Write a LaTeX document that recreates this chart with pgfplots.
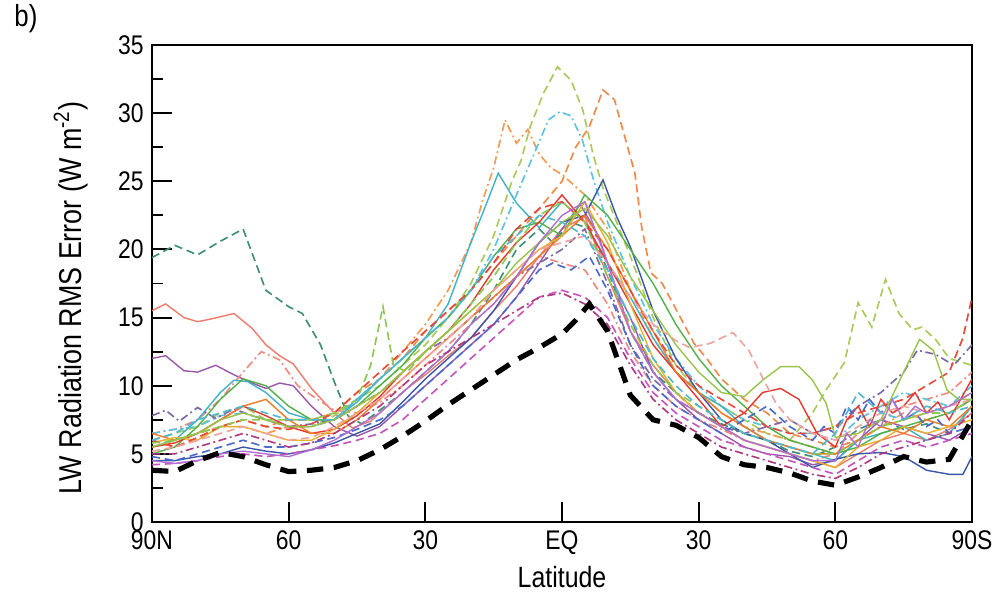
\documentclass[border=0pt]{standalone}
\usepackage{fontspec}
\setmainfont{Liberation Sans}[FakeStretch=0.85]
\usepackage{pgfplots}
\pgfplotsset{compat=1.18}
\usetikzlibrary{calc}
\definecolor{c1}{HTML}{3F8F74}
\definecolor{c2}{HTML}{F07A6C}
\definecolor{c3}{HTML}{9B57A8}
\definecolor{c4}{HTML}{EF8A82}
\definecolor{c5}{HTML}{A8CA58}
\definecolor{c6}{HTML}{F08848}
\definecolor{c7}{HTML}{F49A50}
\definecolor{c8}{HTML}{5CC2E2}
\definecolor{c9}{HTML}{40B2C6}
\definecolor{c10}{HTML}{3A56A6}
\definecolor{c11}{HTML}{52B048}
\definecolor{c12}{HTML}{E2382E}
\definecolor{c13}{HTML}{C455BC}
\definecolor{c14}{HTML}{7C6AA4}
\definecolor{c15}{HTML}{F27A26}
\definecolor{c16}{HTML}{E6B030}
\definecolor{c17}{HTML}{4A6ACC}
\definecolor{c18}{HTML}{E6483A}
\definecolor{c19}{HTML}{98C44A}
\definecolor{c20}{HTML}{F0A2A0}
\definecolor{c21}{HTML}{8CC850}
\definecolor{c22}{HTML}{B070D0}
\definecolor{c23}{HTML}{B03A80}
\definecolor{c24}{HTML}{50B8D0}
\tikzset{
  msolid/.style={line width=0.6pt},
  mdash/.style={line width=0.7pt, dash pattern=on 3.5pt off 2pt},
  mdashdot/.style={line width=0.7pt, dash pattern=on 3.5pt off 1.5pt on 0.8pt off 1.5pt},
}
\begin{document}
\begin{tikzpicture}
\begin{axis}[
  scale only axis, width=12.3cm, height=7.155cm,
  xmin=0, xmax=180, ymin=0, ymax=35,
  xtick={0,30,...,180}, xticklabels={90N,60,30,EQ,30,60,90S},
  ytick={0,5,...,35}, minor y tick num=1,
  tick align=inside, xtick pos=bottom, ytick pos=left,
  major tick length=0.3cm, minor tick length=0.16cm,
  axis line style={line width=0.9pt},
  every tick/.style={line width=0.8pt, black},
  ticklabel style={font=\fontsize{11.5}{13}\selectfont},
  /pgf/number format/assume math mode=true,
  xlabel={Latitude},
  ylabel={LW Radiation RMS Error (W m\textsuperscript{-2})},
  label style={font=\fontsize{13.5}{15}\selectfont},
  xlabel style={at={(axis description cs:0.5,-0.075)}, anchor=north, font=\fontsize{12.5}{14}\selectfont},
  ylabel style={at={(axis description cs:-0.068,0.47)}, anchor=south},
  clip=true,
]
\addplot[c1, mdash] coordinates {(0,19.4)(5,20.3)(10,19.6)(15,20.6)(20,21.5)(25,17.0)(30,15.8)(33,15.3)(37,13.0)(40,10.3)(43,7.8)(46,7.2)(50,8.2)(55,9.5)(60,11.0)(65,12.5)(70,14.5)(75,17.0)(80,20.0)(85,21.5)(88,20.5)(92,22.0)(96,21.5)(100,18.5)(105,14.0)(110,11.0)(115,9.5)(120,8.0)(125,7.2)(130,6.5)(135,6.0)(140,5.2)(145,4.8)(150,5.5)(155,6.8)(160,7.5)(165,6.8)(170,7.2)(175,6.5)(180,8.5)};
\addplot[c2, msolid] coordinates {(0,15.5)(3,16.0)(7,15.0)(10,14.7)(13,14.9)(18,15.3)(22,14.2)(25,13.0)(28,12.2)(31,11.6)(35,9.8)(40,8.0)(44,6.9)(48,7.4)(52,8.6)(56,9.8)(60,10.8)(65,12.2)(70,13.5)(75,15.5)(80,17.3)(85,19.5)(90,21.5)(95,22.4)(100,18.0)(105,14.0)(110,11.5)(115,9.5)(120,8.0)(125,7.0)(130,6.0)(135,5.5)(140,5.0)(145,4.5)(150,4.0)(155,5.0)(160,6.0)(165,6.5)(170,6.0)(175,6.8)(180,8.0)};
\addplot[c3, msolid] coordinates {(0,12.0)(3,12.2)(7,11.1)(10,11.0)(14,11.5)(18,10.8)(22,10.2)(25,9.8)(28,10.2)(31,10.0)(35,8.5)(40,7.0)(45,6.3)(50,7.0)(55,8.5)(60,10.0)(65,11.5)(70,13.0)(75,14.5)(80,16.5)(85,19.0)(90,21.5)(94,23.3)(98,21.0)(102,17.0)(105,15.0)(110,11.0)(115,9.0)(120,7.5)(125,6.5)(130,5.5)(135,5.0)(140,4.8)(145,4.2)(150,4.5)(155,6.0)(160,7.5)(165,7.0)(170,6.5)(175,6.0)(180,7.0)};
\addplot[c4, mdashdot] coordinates {(0,6.5)(5,6.8)(10,7.5)(15,9.0)(20,11.0)(24,12.5)(28,11.9)(32,10.0)(35,9.3)(40,8.2)(45,8.0)(50,8.8)(55,10.0)(60,11.5)(65,13.0)(70,14.5)(75,16.0)(80,18.0)(85,19.5)(90,19.0)(95,18.5)(100,16.0)(105,12.5)(110,10.0)(115,8.5)(120,7.5)(125,6.8)(130,6.0)(135,5.5)(140,5.0)(145,4.5)(150,5.0)(155,6.5)(160,7.5)(165,8.5)(170,9.0)(175,9.5)(180,11.0)};
\addplot[c5, mdash] coordinates {(0,6.0)(5,6.5)(10,7.0)(15,8.0)(20,8.5)(25,7.5)(30,7.0)(35,7.0)(40,7.8)(45,9.0)(50,10.0)(55,11.5)(60,13.0)(65,15.0)(70,17.5)(75,21.0)(79,25.0)(81,26.5)(83,29.0)(86,31.5)(89,33.4)(92,32.4)(94.6,30.2)(96.8,27.0)(99,24.5)(102,22.0)(105,19.5)(110,15.0)(115,11.5)(120,9.5)(125,8.5)(130,7.5)(135,6.5)(140,6.0)(145,8.0)(148,9.7)(152,11.7)(155,16.1)(158,14.3)(161,17.8)(164,15.3)(167,14.1)(169,14.3)(172,13.4)(175,12.0)(180,11.5)};
\addplot[c6, mdash] coordinates {(0,6.0)(5,5.5)(10,6.0)(15,7.0)(20,7.5)(25,7.0)(30,7.5)(35,7.5)(40,8.0)(45,9.5)(50,10.5)(55,12.0)(60,14.0)(65,15.5)(70,17.0)(75,19.0)(80,21.0)(85,23.0)(90,25.0)(93,27.5)(96,29.0)(99,31.7)(101.5,31.0)(104,28.0)(106,25.6)(107.5,21.6)(109.5,18.3)(112,17.5)(116,15.0)(119,13.1)(122,11.9)(125,10.5)(130,9.0)(135,8.0)(140,6.5)(145,6.0)(150,5.5)(155,6.0)(160,7.0)(165,7.5)(170,8.0)(175,8.5)(180,9.5)};
\addplot[c7, mdashdot] coordinates {(0,5.5)(5,6.0)(10,6.5)(15,7.0)(20,7.0)(25,6.5)(30,7.0)(35,7.0)(40,7.5)(45,9.0)(50,10.5)(55,12.5)(60,14.5)(65,17.0)(70,20.5)(72.5,23.5)(75,26.0)(77.5,29.5)(80,27.8)(82.5,28.8)(85,27.0)(87.5,26.0)(90,25.5)(95,24.0)(100,21.5)(105,17.0)(110,13.5)(115,11.0)(120,9.5)(125,8.0)(130,7.0)(135,6.5)(140,6.0)(145,5.5)(150,5.0)(155,6.0)(160,7.0)(165,8.0)(170,7.5)(175,8.0)(180,9.0)};
\addplot[c8, mdashdot] coordinates {(0,6.5)(5,6.8)(10,7.0)(15,7.8)(20,8.0)(25,7.5)(30,7.0)(35,7.0)(40,7.5)(45,9.0)(50,10.5)(55,12.0)(60,13.5)(65,15.0)(70,17.0)(75,20.0)(80,24.0)(84.5,27.5)(87,29.5)(89.5,30.1)(92,29.8)(94.5,28.0)(97,25.0)(100,22.0)(105,18.0)(110,14.5)(115,12.0)(120,10.0)(125,8.5)(130,7.5)(135,7.0)(140,6.5)(145,6.5)(150,6.0)(155,7.5)(160,8.5)(165,9.5)(170,9.0)(175,8.5)(180,10.0)};
\addplot[c9, msolid] coordinates {(0,5.5)(5,6.0)(10,7.5)(15,9.5)(18,10.4)(21,10.3)(25,9.5)(30,8.0)(35,7.5)(40,7.5)(45,8.8)(50,10.5)(55,12.0)(60,13.5)(65,16.0)(70,20.5)(73,23.0)(76,25.6)(80,23.4)(85,21.6)(90,23.5)(95,22.0)(100,19.0)(105,16.5)(110,13.5)(115,11.0)(120,9.5)(125,8.5)(130,7.0)(135,6.0)(140,5.5)(145,5.0)(150,4.5)(155,6.0)(160,6.5)(165,7.0)(170,6.0)(175,6.5)(180,8.5)};
\addplot[c10, msolid] coordinates {(0,4.5)(5,4.5)(10,4.8)(15,5.0)(20,5.5)(25,5.2)(30,5.0)(35,5.3)(40,5.8)(45,6.5)(50,7.2)(55,8.8)(60,10.5)(65,12.0)(70,13.5)(75,15.5)(80,18.0)(85,20.5)(90,22.0)(95,22.5)(99,25.1)(102,22.4)(105,20.2)(110,15.5)(115,12.0)(120,9.5)(125,7.5)(130,6.5)(135,6.0)(140,5.0)(145,4.0)(150,4.6)(155,5.0)(160,5.1)(165,4.8)(170,3.8)(175,3.5)(178,3.5)(180,4.8)};
\addplot[c11, msolid] coordinates {(0,5.0)(5,5.5)(10,7.0)(15,9.0)(20,10.5)(25,10.0)(30,8.5)(35,7.5)(40,7.5)(45,8.5)(50,10.0)(55,11.5)(60,13.5)(65,15.0)(70,17.0)(75,19.5)(80,21.5)(85,22.0)(90,21.0)(95,24.0)(100,22.5)(105,20.0)(110,17.5)(115,14.5)(120,12.0)(125,10.0)(130,8.5)(135,7.0)(140,6.0)(145,5.5)(150,5.0)(155,5.5)(160,6.5)(165,7.0)(170,7.5)(175,8.0)(180,9.0)};
\addplot[c12, msolid] coordinates {(0,5.5)(5,5.8)(10,6.5)(15,7.5)(20,8.5)(25,7.8)(30,7.0)(35,6.5)(40,6.8)(45,7.8)(50,9.2)(55,11.0)(60,12.5)(65,14.0)(70,16.0)(75,18.5)(80,20.5)(85,22.0)(90,24.0)(95,22.0)(100,19.0)(105,16.0)(110,13.0)(115,11.0)(120,9.0)(125,7.0)(130,8.0)(134,9.5)(138,9.8)(142,9.0)(146,6.5)(150,5.5)(152.5,7.5)(155,8.5)(157.5,7.0)(160,9.0)(162.5,8.0)(165,8.5)(167.5,9.5)(170,8.0)(172.5,8.8)(175,7.5)(177.5,9.0)(180,10.5)};
\addplot[c13, mdash] coordinates {(0,4.2)(5,4.3)(10,4.5)(15,4.8)(20,5.0)(25,4.8)(30,5.0)(35,5.3)(40,5.6)(45,6.0)(50,6.5)(55,7.5)(60,9.0)(65,10.5)(70,12.0)(75,13.5)(80,15.0)(85,16.5)(90,17.0)(95,16.5)(100,15.0)(105,12.0)(110,9.5)(115,8.0)(120,7.0)(125,6.0)(130,5.5)(135,5.0)(140,4.5)(145,4.0)(150,3.5)(155,4.5)(160,5.5)(165,6.0)(170,5.5)(175,6.0)(180,6.5)};
\addplot[c14, mdashdot] coordinates {(0,7.8)(3,8.2)(6,7.4)(10,8.4)(14,7.6)(18,8.3)(22,7.8)(25,7.5)(30,7.0)(35,7.2)(40,7.5)(45,8.5)(50,9.5)(55,11.0)(60,12.5)(65,13.5)(70,15.0)(75,16.5)(80,18.0)(85,19.0)(90,20.0)(95,21.5)(100,17.5)(105,13.0)(110,10.5)(115,9.0)(120,8.0)(125,7.0)(130,6.5)(135,7.0)(140,7.5)(145,6.5)(150,7.0)(155,8.5)(160,9.5)(165,11.0)(168,12.6)(172,12.3)(176,11.5)(180,13.0)};
\addplot[c15, msolid] coordinates {(0,6.5)(5,6.0)(10,6.5)(15,7.5)(20,8.5)(25,9.0)(30,7.5)(35,6.5)(40,6.5)(45,7.5)(50,9.0)(55,10.5)(60,12.0)(65,13.5)(70,15.0)(75,16.5)(80,18.0)(85,19.5)(90,21.0)(95,22.5)(100,20.0)(105,17.0)(110,14.0)(115,11.0)(120,9.5)(125,8.0)(130,7.0)(135,6.0)(140,5.5)(145,5.0)(150,5.0)(155,6.0)(160,7.0)(165,6.5)(170,7.5)(175,7.0)(180,8.5)};
\addplot[c16, msolid] coordinates {(0,5.8)(5,6.2)(10,6.0)(15,7.0)(20,7.0)(25,6.5)(30,6.0)(35,6.0)(40,6.8)(45,8.0)(50,9.5)(55,11.0)(60,12.5)(65,14.0)(70,15.5)(75,17.0)(80,18.5)(85,20.0)(90,21.0)(95,23.5)(100,20.5)(105,16.0)(110,12.0)(115,9.5)(120,8.0)(125,7.0)(130,6.0)(135,5.5)(140,5.0)(145,4.5)(150,4.0)(155,5.5)(160,6.0)(165,7.0)(170,6.5)(175,7.0)(180,7.5)};
\addplot[c17, mdash] coordinates {(0,4.8)(5,4.5)(10,5.0)(15,5.5)(20,6.0)(25,5.5)(30,5.5)(35,5.8)(40,6.2)(45,6.8)(50,7.5)(55,8.5)(60,10.0)(65,11.5)(70,13.0)(75,14.5)(80,16.5)(85,18.5)(88,19.0)(92,18.5)(96,19.5)(100,17.0)(105,13.0)(110,10.0)(115,8.5)(120,7.5)(125,6.5)(130,7.5)(135,8.5)(140,7.0)(145,6.0)(147.5,7.0)(150,6.5)(152.5,8.5)(155,7.5)(157.5,9.0)(160,8.0)(162.5,9.0)(165,7.5)(167.5,8.0)(170,7.0)(172.5,7.5)(175,6.5)(180,7.0)};
\addplot[c18, mdash] coordinates {(0,6.0)(5,5.5)(10,6.2)(15,7.0)(20,7.5)(25,7.0)(30,6.8)(35,7.2)(40,8.0)(45,9.5)(50,11.0)(55,12.5)(60,14.0)(65,15.5)(70,17.0)(75,19.0)(80,21.5)(85,23.0)(90,23.5)(95,22.0)(100,20.0)(105,17.0)(110,14.0)(115,11.5)(120,10.0)(125,9.0)(130,8.0)(135,7.0)(140,6.5)(145,6.5)(150,7.0)(155,8.0)(160,8.5)(165,9.0)(170,10.0)(175,11.0)(178,13.5)(180,16.5)};
\addplot[c19, msolid] coordinates {(0,5.5)(5,6.0)(10,6.5)(15,7.5)(20,8.0)(25,7.5)(30,7.0)(35,7.0)(40,7.5)(45,8.5)(50,9.5)(55,11.0)(60,12.5)(65,14.0)(70,15.5)(75,17.0)(80,19.0)(85,20.5)(90,22.0)(95,23.0)(100,21.0)(105,18.0)(110,15.5)(115,13.0)(120,11.0)(125,9.5)(130,9.2)(134,10.4)(138,11.4)(142,11.4)(145,10.4)(148,8.7)(150,6.2)(155,6.5)(160,7.5)(165,11.0)(168.5,13.4)(171.5,12.6)(174.5,9.7)(177,9.0)(180,9.0)};
\addplot[c20, mdash] coordinates {(0,5.2)(5,5.5)(10,6.0)(15,6.5)(20,7.0)(25,6.5)(30,6.0)(35,6.2)(40,7.0)(45,8.0)(50,9.0)(55,10.5)(60,12.0)(65,13.5)(70,15.0)(75,17.0)(80,18.5)(85,20.0)(90,20.5)(95,21.0)(100,19.0)(105,16.5)(110,14.5)(115,13.3)(118,12.8)(122.5,13.1)(127.5,13.9)(131,12.6)(134,10.6)(137,8.7)(140,7.5)(145,6.5)(150,6.0)(155,7.0)(160,8.0)(165,8.5)(170,8.0)(175,8.5)(180,9.0)};
\addplot[c21, mdash] coordinates {(0,5.8)(5,6.0)(10,6.5)(15,7.0)(20,7.5)(25,7.5)(30,7.5)(35,7.5)(40,8.0)(45,9.0)(48,11.5)(50.7,15.8)(53,11.5)(56,11.0)(60,12.5)(65,14.0)(70,16.0)(75,18.0)(80,20.5)(85,22.5)(90,23.5)(95,22.0)(100,18.0)(105,14.5)(110,11.5)(115,9.5)(120,8.5)(125,7.5)(130,6.5)(135,6.0)(140,5.5)(145,5.0)(150,5.0)(155,6.0)(160,7.0)(165,7.5)(170,8.0)(175,8.0)(180,9.0)};
\addplot[c22, msolid] coordinates {(0,4.5)(5,4.3)(10,4.5)(15,5.0)(20,5.2)(25,5.0)(30,4.8)(35,5.3)(40,6.0)(45,7.0)(50,8.0)(55,9.5)(60,11.0)(65,12.5)(70,14.5)(75,16.0)(80,18.0)(85,20.5)(90,22.5)(95,23.5)(100,19.0)(105,14.0)(110,11.0)(115,9.0)(120,8.0)(125,7.0)(130,6.0)(135,5.5)(140,5.0)(145,4.5)(150,4.5)(152.5,6.5)(155,5.5)(157.5,7.5)(160,7.0)(162.5,9.0)(165,7.5)(167.5,8.5)(170,8.0)(175,8.5)(180,9.5)};
\addplot[c23, mdashdot] coordinates {(0,5.0)(5,5.0)(10,5.5)(15,6.0)(20,6.5)(25,6.0)(30,5.5)(35,5.8)(40,6.5)(45,7.5)(50,8.5)(55,10.0)(60,11.5)(65,12.5)(70,13.5)(75,14.5)(80,15.5)(85,16.5)(90,16.8)(95,16.0)(100,14.5)(105,11.5)(110,9.0)(115,7.5)(120,6.5)(125,5.5)(130,5.0)(135,4.5)(140,4.0)(145,3.5)(150,3.2)(155,4.0)(160,5.0)(165,5.5)(170,6.0)(175,6.5)(180,8.0)};
\addplot[c24, mdash] coordinates {(0,6.0)(5,6.5)(10,7.5)(15,8.0)(20,8.5)(25,8.0)(30,7.5)(35,7.5)(40,7.5)(45,9.0)(50,10.5)(55,12.0)(60,13.5)(65,15.0)(70,17.0)(75,19.5)(80,21.0)(85,22.5)(90,22.0)(95,21.0)(100,18.5)(105,15.0)(110,12.0)(115,10.0)(120,8.5)(125,7.5)(130,6.5)(135,6.0)(140,5.5)(145,5.0)(150,6.5)(155,9.5)(160,8.0)(165,7.5)(170,8.5)(175,8.0)(180,8.5)};
\addplot[black, line width=2.2pt, dash pattern=on 7pt off 4.5pt] coordinates {(0,3.8)(5,3.7)(10,4.5)(15,5.1)(20,4.8)(25,4.2)(30,3.7)(35,3.8)(40,4.0)(45,4.5)(50,5.3)(55,6.3)(60,7.4)(65,8.6)(70,9.7)(75,10.8)(80,11.9)(85,12.8)(90,13.8)(93,14.8)(96,16.0)(100,14.0)(105,9.3)(110,7.5)(115,7.1)(120,6.2)(125,4.8)(130,4.2)(135,4.0)(140,3.6)(145,3.0)(150,2.7)(155,3.3)(160,4.0)(165,4.8)(170,4.4)(175,4.6)(180,7.5)};
\end{axis}
\node[font=\fontsize{13}{15}\selectfont] at ($(current axis.north west)+(-1.89cm,0.39cm)$) {b)};
\pgfresetboundingbox
\path[use as bounding box] ($(current axis.south west)+(-2.28cm,-1.14cm)$) rectangle ($(current axis.north east)+(0.42cm,0.675cm)$);
\end{tikzpicture}
\end{document}
